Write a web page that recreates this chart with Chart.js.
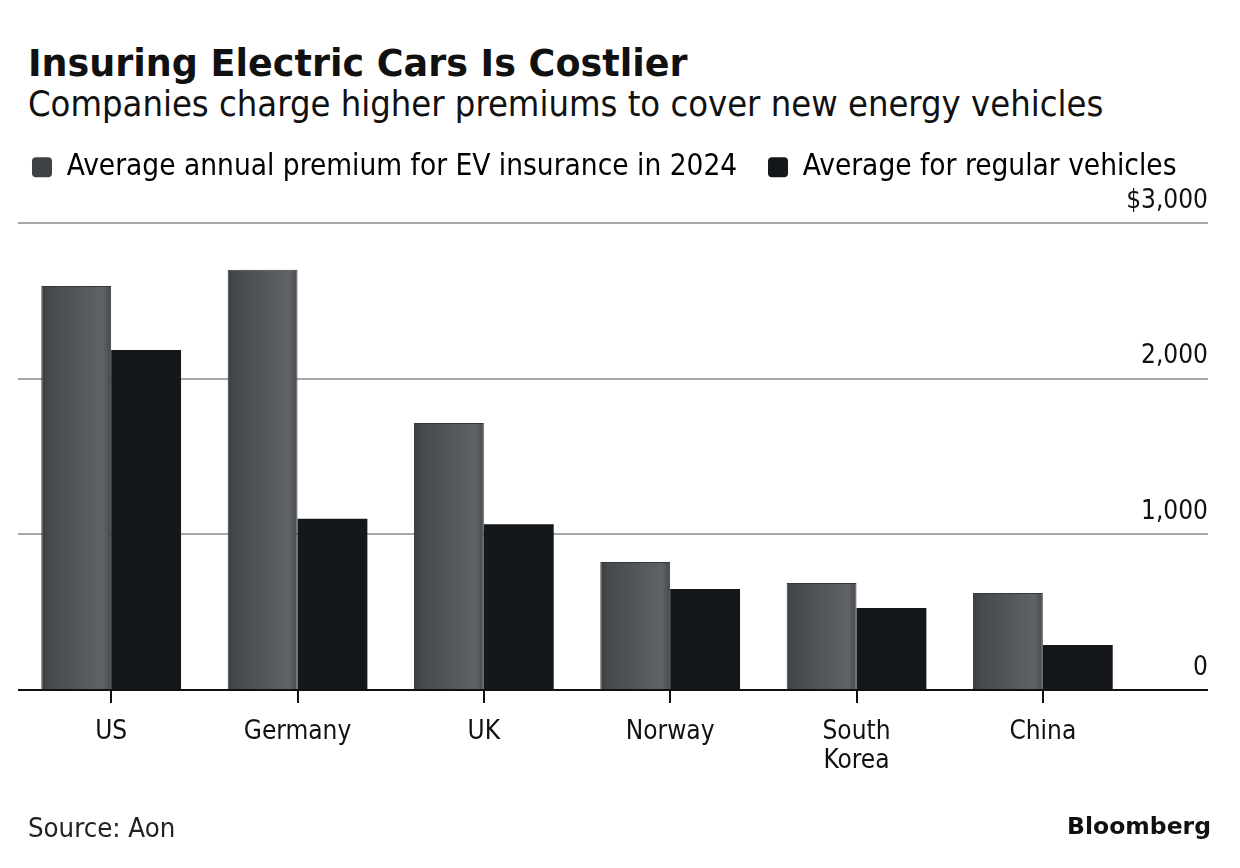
<!DOCTYPE html>
<html>
<head>
<meta charset="utf-8">
<script src="https://cdn.jsdelivr.net/npm/chart.js@4.4.1/dist/chart.umd.min.js"></script>
<style>
  html, body { margin: 0; padding: 0; background: #fff; }
  #wrap { position: relative; width: 1240px; height: 868px; overflow: hidden; }
  #c { position: absolute; left: 0; top: 0; }
  .txt { position: absolute; line-height: 1; white-space: nowrap; color: #111; }
  #title { left: 28px; top: 42px; font: bold 36.5px "DejaVu Sans"; }
  #sub { left: 28px; top: 83px; font: 36px "DejaVu Sans Condensed", "DejaVu Sans"; }
  #source { left: 28px; top: 812px; font: 27.3px "DejaVu Sans Condensed", "DejaVu Sans"; color: #222; }
  #brand { right: 29px; top: 812px; font: bold 23.5px "DejaVu Sans"; }
</style>
</head>
<body>
<div id="wrap">
  <div class="txt" id="title">Insuring Electric Cars Is Costlier</div>
  <div class="txt" id="sub">Companies charge higher premiums to cover new energy vehicles</div>
  <canvas id="c" width="1240" height="868"></canvas>
  <div class="txt" id="source">Source: Aon</div>
  <div class="txt" id="brand">Bloomberg</div>
</div>
<script>
/* EV vs regular car insurance premiums */
const countries = ['US', 'Germany', 'UK', 'Norway', ['South', 'Korea'], 'China'];
const evPremium = [2595, 2700, 1715, 822, 687, 623];
const regularPremium = [2184, 1100, 1064, 649, 527, 289];
const seriesNames = ['Average annual premium for EV insurance in 2024', 'Average for regular vehicles'];
const seriesColors = ['#3e4245', '#15181b'];
const yTicks = [0, 1000, 2000, 3000];
const yTickLabels = ['0', '1,000', '2,000', '$3,000'];

const FONT = '"DejaVu Sans Condensed", "DejaVu Sans"';

// metallic shading for EV bars, one gradient per bar
function evFill(ctx) {
  const chart = ctx.chart, x = chart.scales.x;
  if (!chart.chartArea || !x || ctx.type !== 'data') return seriesColors[0];
  const c = x.getPixelForValue(ctx.dataIndex), w = x.width / countries.length * 0.75 / 2;
  const g = chart.ctx.createLinearGradient(c - w, 0, c, 0);
  g.addColorStop(0, '#3b3e41');
  g.addColorStop(0.1, '#45494c');
  g.addColorStop(0.55, '#54585c');
  g.addColorStop(0.88, '#5f6367');
  g.addColorStop(1, '#46494c');
  return g;
}

// extra room between legend and plot (the $3,000 label sits there)
const legendGap = {
  id: 'legendGap',
  beforeLayout(chart) {
    const lg = chart.legend;
    if (lg && !lg._gap) {
      const fit = lg.fit;
      lg.fit = function () { fit.call(this); this.height += 31; };
      lg._gap = true;
    }
  }
};

new Chart(document.getElementById('c'), {
  type: 'bar',
  data: {
    labels: countries,
    datasets: [
      { label: seriesNames[0], data: evPremium, backgroundColor: evFill,
        borderColor: '#36393c', borderWidth: { top: 1, left: 1, right: 1, bottom: 0 }, borderSkipped: false },
      { label: seriesNames[1], data: regularPremium, backgroundColor: seriesColors[1], borderWidth: 0 }
    ]
  },
  plugins: [legendGap],
  options: {
    responsive: false, animation: false, devicePixelRatio: 1,
    layout: { padding: { left: 18, right: 32, top: 138.5, bottom: 88 } },
    datasets: { bar: { categoryPercentage: 0.75, barPercentage: 1 } },
    plugins: {
      tooltip: { enabled: false },
      legend: {
        position: 'top', align: 'start',
        labels: {
          color: '#222', font: { family: FONT, size: 29.5 }, padding: 14,
          boxWidth: 20, boxHeight: 20, useBorderRadius: true, borderRadius: 4,
          generateLabels: ch => ch.data.datasets.map((d, i) => ({
            // a little extra air after the first entry, as in the original
            text: i === 0 ? d.label + '\u00a0\u00a0' : d.label,
            fillStyle: seriesColors[i], strokeStyle: seriesColors[i], lineWidth: 0,
            datasetIndex: i, borderRadius: 4
          }))
        }
      }
    },
    scales: {
      x: {
        offset: true,
        grid: { offset: false, drawOnChartArea: false, drawTicks: true, tickLength: 13, color: '#111', lineWidth: 2 },
        border: { display: false },
        ticks: { color: '#111', font: { family: FONT, size: 26, lineHeight: 1.1 }, padding: 15, maxRotation: 0, autoSkip: false },
        afterFit: s => { s.height = 90; }
      },
      y: {
        position: 'right', min: 0, max: 3000,
        afterBuildTicks: s => { s.ticks = yTicks.map(v => ({ value: v })); },
        grid: {
          color: c => c.tick && c.tick.value === 0 ? '#111' : '#a8a8a8',
          lineWidth: 2, drawTicks: true, tickLength: 72
        },
        border: { display: false },
        ticks: {
          color: '#111', font: { family: FONT, size: 26 }, mirror: true, padding: 72, labelOffset: -22,
          callback: v => yTickLabels[yTicks.indexOf(v)]
        },
        afterFit: s => { s.width = 72; }
      }
    }
  }
});
</script>
</body>
</html>
